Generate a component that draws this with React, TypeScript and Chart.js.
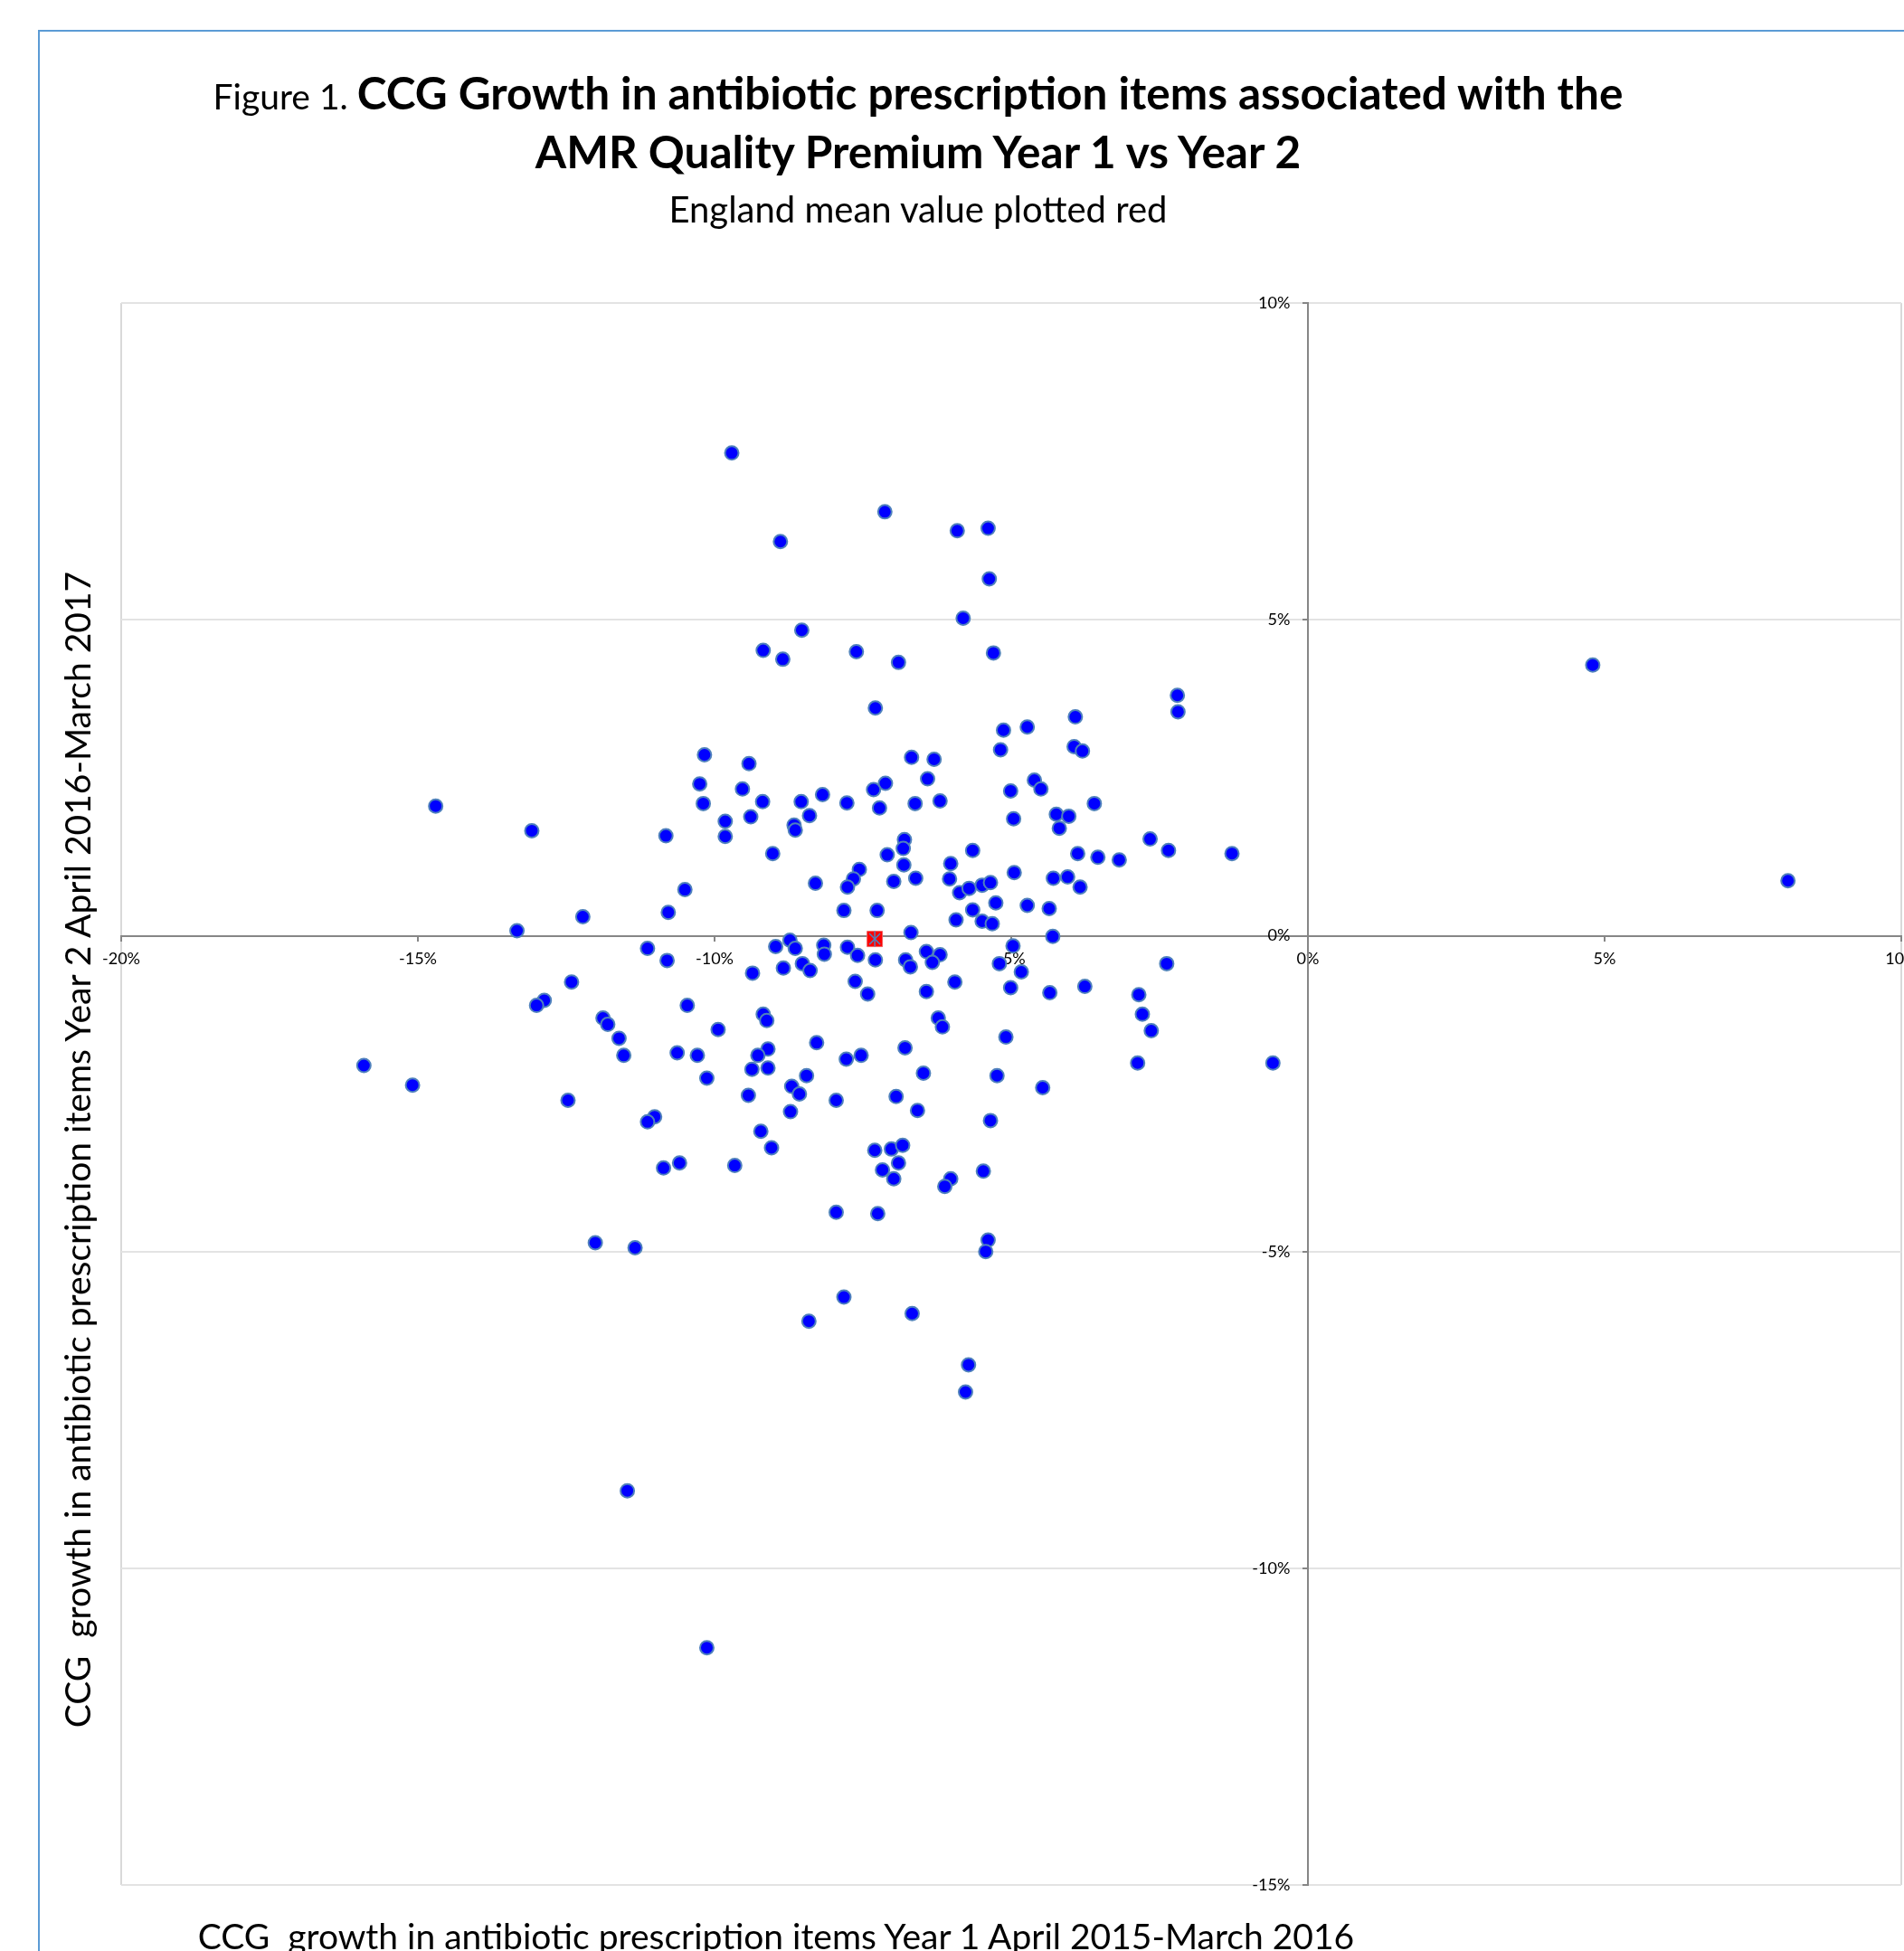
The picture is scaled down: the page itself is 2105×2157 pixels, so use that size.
import { useEffect, useRef } from 'react';
import { Chart, registerables } from 'chart.js';

Chart.register(...registerables);

// CCG growth in antibiotic prescription items (%), Year 1 (Apr 2015–Mar 2016)
const year1Growth: number[] = [
  -9.71, -7.13, -8.89, -5.91, -5.39, -5.37, -5.81, -8.53, -9.18, -8.85,
  -7.61, -6.90, -5.30, 4.80, -2.20, -2.19, -7.29, -3.92, -5.13, -4.73,
  -10.17, -9.42, -6.68, -6.30, -5.18, -3.94, -3.80, -10.25, -9.53, -7.32,
  -7.12, -6.41, -5.01, -4.61, -4.50, -10.19, -9.19, -8.54, -8.18, -7.77,
  -7.22, -6.62, -6.20, -3.60, -14.70, -9.39, -8.40, -8.66, -8.64, -9.82,
  -9.82, -4.96, -4.24, -4.03, -4.19, -13.08, -10.82, -6.80, -6.82, -2.66,
  -9.02, -7.09, -6.81, -5.65, -3.88, -3.54, -3.18, -2.35, -1.28, -6.02,
  -7.56, -7.66, -7.76, -6.98, -6.61, -6.04, -4.95, -4.29, -4.05, -8.30,
  -10.50, -5.87, -5.71, -5.49, -5.35, -3.84, -5.26, -4.73, -4.36, -10.78,
  -7.26, -7.82, -12.22, -5.65, -5.93, -5.49, -5.32, -13.33, -6.69, -4.30,
  -8.73, -8.97, -8.64, -7.76, -8.16, -4.97, -11.13, -7.59, -8.15, -6.78,
  -7.29, -6.43, -6.20, -6.33, -6.70, -8.84, -8.52, -8.39, -10.80, -9.36,
  -5.20, -4.83, -2.38, -12.41, -7.63, -5.95, -5.01, -6.43, -7.42, -3.76,
  -4.35, -2.85, -12.87, -13.00, -10.46, -2.79, -9.18, -9.12, -6.23, -6.16,
  -11.88, -11.80, -9.94, -2.64, -11.61, -5.09, -8.28, -6.79, -9.10, -9.27,
  -11.53, -10.63, -10.29, -7.78, -7.53, -15.91, -2.87, -0.59, -9.10, -9.37,
  -6.48, -8.45, -10.13, -5.24, -15.09, -8.70, -8.57, -4.47, -6.94, -9.43,
  -12.47, -7.95, -8.72, -6.58, -11.01, -11.13, -5.35, -9.22, -9.04, -7.30,
  -7.02, -6.83, -6.90, -7.17, -6.98, -10.59, -10.86, -9.66, -5.47, -6.02,
  -6.12, -7.95, -7.25, -12.01, -11.34, -5.39, -5.43, -7.82, -6.67, -8.41,
  -5.72, -5.77, -11.47, -10.13, 8.09,
];

// CCG growth in antibiotic prescription items (%), Year 2 (Apr 2016–Mar 2017)
const year2Growth: number[] = [
  7.63, 6.70, 6.23, 6.40, 6.44, 5.64, 5.02, 4.83, 4.51, 4.37,
  4.49, 4.32, 4.47, 4.28, 3.80, 3.54, 3.60, 3.46, 3.25, 3.30,
  2.86, 2.72, 2.82, 2.79, 2.94, 2.99, 2.92, 2.40, 2.32, 2.31,
  2.41, 2.48, 2.29, 2.46, 2.32, 2.09, 2.12, 2.12, 2.23, 2.10,
  2.02, 2.09, 2.13, 2.09, 2.05, 1.88, 1.90, 1.75, 1.67, 1.81,
  1.57, 1.85, 1.92, 1.89, 1.70, 1.66, 1.58, 1.52, 1.38, 1.53,
  1.30, 1.28, 1.12, 1.35, 1.30, 1.24, 1.20, 1.35, 1.30, 1.14,
  1.05, 0.90, 0.77, 0.86, 0.91, 0.90, 1.00, 0.91, 0.93, 0.83,
  0.73, 0.68, 0.75, 0.80, 0.84, 0.77, 0.52, 0.48, 0.43, 0.37,
  0.40, 0.40, 0.30, 0.41, 0.25, 0.23, 0.19, 0.08, 0.05, -0.01,
  -0.07, -0.17, -0.20, -0.18, -0.15, -0.16, -0.20, -0.31, -0.29, -0.38,
  -0.38, -0.25, -0.30, -0.42, -0.49, -0.51, -0.44, -0.55, -0.39, -0.59,
  -0.44, -0.57, -0.44, -0.73, -0.72, -0.73, -0.82, -0.88, -0.92, -0.80,
  -0.90, -0.93, -1.02, -1.10, -1.10, -1.24, -1.24, -1.34, -1.30, -1.44,
  -1.30, -1.40, -1.48, -1.50, -1.62, -1.60, -1.69, -1.77, -1.79, -1.89,
  -1.89, -1.85, -1.89, -1.95, -1.89, -2.05, -2.01, -2.01, -2.09, -2.11,
  -2.17, -2.21, -2.25, -2.21, -2.36, -2.38, -2.50, -2.40, -2.54, -2.52,
  -2.60, -2.60, -2.78, -2.76, -2.86, -2.94, -2.92, -3.09, -3.35, -3.39,
  -3.37, -3.31, -3.59, -3.70, -3.84, -3.59, -3.67, -3.63, -3.72, -3.84,
  -3.96, -4.37, -4.39, -4.85, -4.93, -4.81, -4.99, -5.71, -5.97, -6.09,
  -6.78, -7.21, -8.77, -11.25, 0.87,
];

// England mean growth (%), Year 1 and Year 2
const englandMeanYear1 = -7.3;
const englandMeanYear2 = -0.05;

// Axis ranges and tick spacing (%)
const xAxisRange = [-20, 10];
const yAxisRange = [-15, 10];
const tickStep = 5;
// Year-2 tick labels sit just left of the vertical axis (value on the x scale)
const yLabelAnchor = -0.3;

const FONT = 'Lato, "Open Sans", "DejaVu Sans", sans-serif';
const CANVAS_W = 2160;
const CANVAS_H = 2157;

export default function App() {
  const canvasRef = useRef<HTMLCanvasElement | null>(null);

  useEffect(() => {
    const canvas = canvasRef.current;
    if (!canvas) return;

    const ccgPoints = year1Growth.map((x, i) => ({ x, y: year2Growth[i] }));
    const meanPoint = [{ x: englandMeanYear1, y: englandMeanYear2 }];
    const pct = (v: any) => `${v}%`;

    const chart = new Chart(canvas, {
      type: 'scatter',
      data: {
        datasets: [
          {
            label: 'England mean',
            data: meanPoint,
            pointStyle: 'crossRot',
            pointRadius: 8.5,
            pointBorderColor: '#4f81bd',
            pointBorderWidth: 1.5,
            pointBackgroundColor: 'rgba(0,0,0,0)',
          },
          {
            label: 'England mean',
            data: meanPoint,
            pointStyle: 'line',
            pointRotation: 90,
            pointRadius: 8.5,
            pointBorderColor: '#4f81bd',
            pointBorderWidth: 1.5,
          },
          {
            label: 'England mean',
            data: meanPoint,
            pointStyle: 'rect',
            pointRadius: 12,
            pointBackgroundColor: '#ff0000',
            pointBorderColor: '#f06060',
            pointBorderWidth: 1,
          },
          {
            label: 'CCG',
            data: ccgPoints,
            pointStyle: 'circle',
            pointRadius: 7.5,
            pointBackgroundColor: '#0000ff',
            pointBorderColor: '#4f81bd',
            pointBorderWidth: 2,
          },
        ],
      },
      options: {
        responsive: false,
        animation: false,
        events: [],
        layout: {
          padding: { left: 134, top: 335, right: CANVAS_W - 2102, bottom: CANVAS_H - 2084 },
        },
        plugins: {
          legend: { display: false },
          tooltip: { enabled: false },
        },
        scales: {
          x: {
            type: 'linear',
            min: xAxisRange[0],
            max: xAxisRange[1],
            position: { y: 0 },
            afterFit: (scale: any) => {
              scale.height = 0;
            },
            ticks: {
              stepSize: tickStep,
              autoSkip: false,
              maxRotation: 0,
              padding: 10,
              color: '#000',
              font: { family: FONT, size: 18 },
              callback: pct,
            },
            grid: {
              drawOnChartArea: true,
              color: (ctx: any) =>
                ctx.tick && (ctx.tick.value === xAxisRange[0] || ctx.tick.value === xAxisRange[1])
                  ? '#d9d9d9'
                  : 'rgba(0,0,0,0)',
              lineWidth: 2,
              drawTicks: true,
              tickLength: 5,
              tickColor: '#868686',
              tickWidth: 2,
            },
            border: { display: true, color: '#868686', width: 2 },
          },
          y: {
            type: 'linear',
            min: yAxisRange[0],
            max: yAxisRange[1],
            position: { x: 0 },
            afterFit: (scale: any) => {
              scale.width = 0;
            },
            ticks: {
              stepSize: tickStep,
              autoSkip: false,
              display: false,
            },
            grid: {
              drawOnChartArea: true,
              color: '#e3e3e3',
              lineWidth: 2,
              drawTicks: true,
              tickLength: 5,
              tickColor: '#868686',
              tickWidth: 2,
            },
            border: { display: true, color: '#868686', width: 2 },
          },
          yLabels: {
            type: 'linear',
            axis: 'y',
            min: yAxisRange[0],
            max: yAxisRange[1],
            position: { x: yLabelAnchor },
            afterFit: (scale: any) => {
              scale.width = 0;
            },
            ticks: {
              stepSize: tickStep,
              autoSkip: false,
              padding: 0,
              color: '#000',
              font: { family: FONT, size: 18 },
              callback: pct,
            },
            grid: { display: false, drawTicks: false },
            border: { display: false },
          },
        },
      },
    } as any);

    return () => chart.destroy();
  }, []);

  const baseText: React.CSSProperties = {
    position: 'absolute',
    lineHeight: 1,
    whiteSpace: 'pre',
    color: '#000',
    fontFamily: FONT,
  };

  return (
    <div
      style={{
        position: 'fixed',
        left: 0,
        top: 0,
        width: 2105,
        height: 2157,
        overflow: 'hidden',
        background: '#ffffff',
      }}
    >
      <div
        style={{
          position: 'absolute',
          left: 42,
          top: 33,
          width: 2400,
          height: 2400,
          border: '2px solid #5b9bd5',
          boxSizing: 'border-box',
        }}
      />
      <canvas
        ref={canvasRef}
        width={CANVAS_W}
        height={CANVAS_H}
        style={{ position: 'absolute', left: 0, top: 0, width: CANVAS_W, height: CANVAS_H }}
      />
      <div style={{ ...baseText, left: 0, width: 2030, top: 78, textAlign: 'center', fontSize: 49.5 }}>
        <span style={{ fontWeight: 400, fontSize: 39 }}>Figure 1. </span>
        <span style={{ fontWeight: 700 }}>CCG Growth in antibiotic prescription items associated with the</span>
      </div>
      <div style={{ ...baseText, left: 0, width: 2030, top: 143, textAlign: 'center', fontSize: 49.5, fontWeight: 700 }}>
        AMR Quality Premium Year 1 vs Year 2
      </div>
      <div style={{ ...baseText, left: 0, width: 2030, top: 211, textAlign: 'center', fontSize: 40 }}>
        England mean value plotted red
      </div>
      <div
        style={{
          ...baseText,
          left: 86 - 800,
          width: 1600,
          top: 1271 - 20,
          height: 40,
          fontSize: 39,
          textAlign: 'center',
          transform: 'rotate(-90deg)',
          transformOrigin: '50% 50%',
        }}
      >
        {'CCG  growth in antibiotic prescription items Year 2 April 2016-March 2017'}
      </div>
      <div style={{ ...baseText, left: 858 - 1000, width: 2000, top: 2121, textAlign: 'center', fontSize: 39 }}>
        {'CCG  growth in antibiotic prescription items Year 1 April 2015-March 2016'}
      </div>
    </div>
  );
}
